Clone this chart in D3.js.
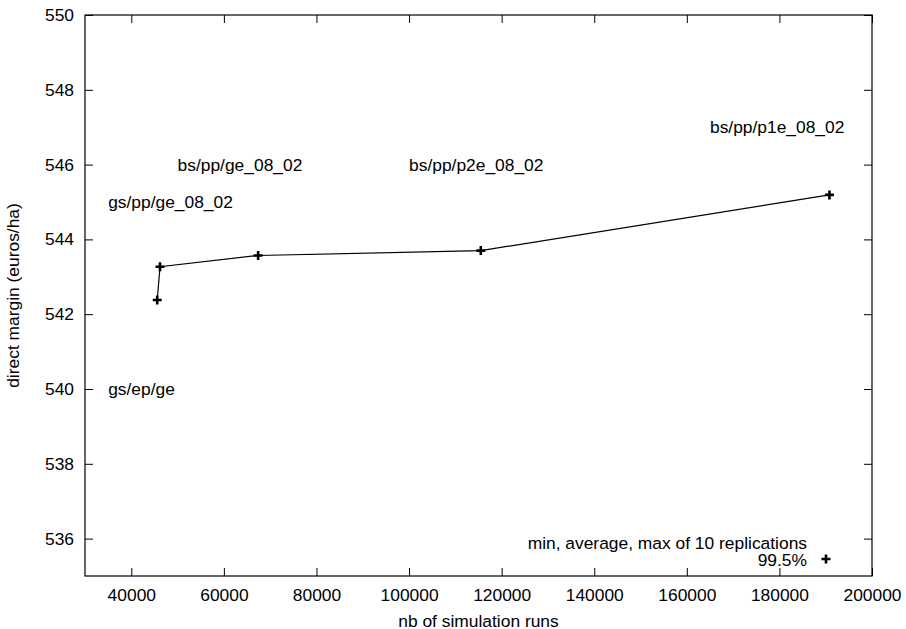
<!DOCTYPE html>
<html>
<head>
<meta charset="utf-8">
<script src="https://cdn.jsdelivr.net/npm/d3@7"></script>
<style>
  html, body { margin: 0; padding: 0; background: #fff; }
  svg { display: block; font-family: "Liberation Sans", Arial, Helvetica, sans-serif; }
</style>
</head>
<body>
<svg id="chart" width="906" height="629"></svg>
<script>
// ---- data ----
const runs    = [45600, 46200, 67400, 115500, 190800];
const margins = [542.38, 543.27, 543.57, 543.70, 545.19];

const labelTexts = ["gs/ep/ge", "gs/pp/ge_08_02", "bs/pp/ge_08_02", "bs/pp/p2e_08_02", "bs/pp/p1e_08_02"];
const labelX     = [35000, 35000, 50000, 100000, 165000];
const labelY     = [540, 545, 546, 546, 547];

const xTicks = [40000, 60000, 80000, 100000, 120000, 140000, 160000, 180000, 200000];
const yTicks = [536, 538, 540, 542, 544, 546, 548, 550];
const xDomain = [30000, 200000];
const yDomain = [535, 550];

const xTitle = "nb of simulation runs";
const yTitle = "direct margin (euros/ha)";
const keyLines = ["min, average, max of 10 replications", "99.5%"];

// ---- layout ----
const svg = d3.select("#chart");
const m = { left: 85, top: 15, right: 906 - 872, bottom: 629 - 576 };
const W = 906 - m.left - m.right;
const H = 629 - m.top - m.bottom;
const fs = 17.4;
const tick = 8;

const x = d3.scaleLinear().domain(xDomain).range([0, W]);
const y = d3.scaleLinear().domain(yDomain).range([H, 0]);

const g = svg.append("g").attr("transform", `translate(${m.left},${m.top})`);

// axes (gnuplot style: inward ticks mirrored on all sides)
function styleAxis(sel) {
  sel.select(".domain").remove();
  sel.selectAll(".tick line").attr("stroke", "#000").attr("stroke-width", 1);
  sel.selectAll("text").attr("font-size", fs).attr("fill", "#000")
     .attr("font-family", '"Liberation Sans", Arial, Helvetica, sans-serif');
}

const xb = g.append("g").attr("transform", `translate(0,${H})`)
  .call(d3.axisBottom(x).tickValues(xTicks).tickFormat(d3.format("d")).tickSize(-tick).tickPadding(13));
styleAxis(xb);

const xt = g.append("g")
  .call(d3.axisTop(x).tickValues(xTicks).tickFormat("").tickSize(-tick));
styleAxis(xt);

const yl = g.append("g")
  .call(d3.axisLeft(y).tickValues(yTicks).tickFormat(d3.format("d")).tickSize(-tick).tickPadding(11));
styleAxis(yl);

const yr = g.append("g").attr("transform", `translate(${W},0)`)
  .call(d3.axisRight(y).tickValues(yTicks).tickFormat("").tickSize(-tick));
styleAxis(yr);

// frame
g.append("rect").attr("x", 0).attr("y", 0).attr("width", W).attr("height", H)
  .attr("fill", "none").attr("stroke", "#000").attr("stroke-width", 1.2);

// line
const pts = runs.map((r, i) => [r, margins[i]]);
g.append("path").datum(pts)
  .attr("fill", "none").attr("stroke", "#000").attr("stroke-width", 1.2)
  .attr("d", d3.line().x(d => x(d[0])).y(d => y(d[1])));

// plus markers
const plus = "M-4.5,0H4.5M0,-4.5V4.5";
g.selectAll(".pt").data(pts).join("path")
  .attr("class", "pt")
  .attr("transform", d => `translate(${x(d[0])},${y(d[1])})`)
  .attr("d", plus).attr("stroke", "#000").attr("stroke-width", 2.6).attr("fill", "none");

// labels
g.selectAll(".lab").data(labelTexts).join("text")
  .attr("class", "lab")
  .attr("x", (d, i) => x(labelX[i]))
  .attr("y", (d, i) => y(labelY[i]))
  .attr("dy", "0.35em")
  .attr("font-size", fs).attr("fill", "#000")
  .text(d => d);

// key
const keyRight = 807;
g.selectAll(".key").data(keyLines).join("text")
  .attr("class", "key")
  .attr("x", keyRight - m.left)
  .attr("y", (d, i) => 542.5 - m.top + i * 17.5)
  .attr("dy", "0.35em")
  .attr("text-anchor", "end")
  .attr("font-size", fs).attr("fill", "#000")
  .text(d => d);
g.append("path")
  .attr("transform", `translate(${826 - m.left},${559 - m.top})`)
  .attr("d", plus).attr("stroke", "#000").attr("stroke-width", 2.6).attr("fill", "none");

// axis titles
svg.append("text")
  .attr("x", m.left + W / 2).attr("y", 621)
  .attr("dy", "0.35em").attr("text-anchor", "middle")
  .attr("font-size", fs).attr("fill", "#000")
  .text(xTitle);
svg.append("text")
  .attr("transform", `translate(13,${m.top + H / 2}) rotate(-90)`)
  .attr("dy", "0.35em").attr("text-anchor", "middle")
  .attr("font-size", fs).attr("fill", "#000")
  .text(yTitle);
</script>
</body>
</html>
